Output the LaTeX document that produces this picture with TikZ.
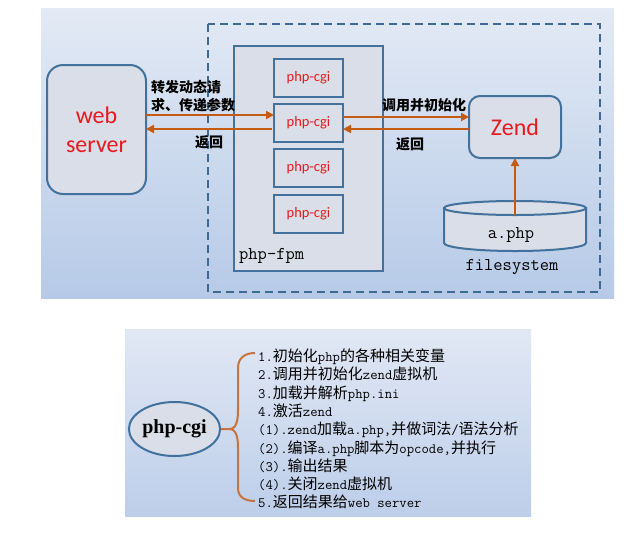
\documentclass[tikz,border=0pt]{standalone}
\usepackage{fontspec}
\newfontfamily\fZh{Noto Sans CJK SC}
\newfontfamily\fCal{Carlito}
\newfontfamily\fSerif{Liberation Serif}
\usetikzlibrary{arrows.meta,shapes.geometric,calc}
\definecolor{bord}{HTML}{41719C}
\definecolor{dashc}{HTML}{3D6A94}
\definecolor{boxfill}{HTML}{DADEE8}
\definecolor{redc}{HTML}{E8191E}
\definecolor{arrc}{HTML}{C55A11}
\definecolor{bracec}{HTML}{C8743A}
\definecolor{ptop}{HTML}{E3EAF5}
\definecolor{pbot}{HTML}{B6CAE7}
\definecolor{qtop}{HTML}{E1E8F4}
\definecolor{qbot}{HTML}{BDCEEA}
\newcommand\Z[1]{{\fZh\fontsize{15}{18}\selectfont #1}}
\tikzset{
  box/.style={draw=bord, line width=2pt, fill=boxfill, inner sep=0pt, outer sep=0pt},
  cgibox/.style={box, minimum width=69pt, minimum height=38pt, text=redc, font=\fCal\fontsize{14.5}{15}\selectfont},
  arr/.style={draw=arrc, line width=2pt, -{Triangle[length=8pt,width=8pt]}},
  lbl/.style={font=\fZh\bfseries\fontsize{14}{18}\selectfont, inner sep=0pt},
  monotxt/.style={font=\ttfamily\fontsize{18}{20}\selectfont, inner sep=0pt},
  li/.style={anchor=base west, inner sep=0pt, font=\ttfamily\fontsize{14.3}{15}\selectfont},
}
\begin{document}
\begin{tikzpicture}[x=1pt,y=-1pt]
\useasboundingbox (0,0) rectangle (642,539);
\fill[white] (0,0) rectangle (642,539);
% top panel
\shade[top color=ptop, bottom color=pbot] (41,8) rectangle (614,298);
\draw[dashc, line width=2pt, dash pattern=on 8pt off 5pt] (208,24) rectangle (600,292);
% php-fpm
\node[box, minimum width=149pt, minimum height=225pt] (fpm) at (308.5,158.5) {};
\node[monotxt, anchor=west] (fpml) at (239,256) {php-fpm};
\node[cgibox] (c1) at (308.5,77.5) {php-cgi};
\node[cgibox] (c2) at (308.5,122.5) {php-cgi};
\node[cgibox] (c3) at (308.5,168) {php-cgi};
\node[cgibox] (c4) at (308.5,213.5) {php-cgi};
% web server
\node[box, rounded corners=16pt, minimum width=99pt, minimum height=129pt, text=redc, align=center, font=\fCal\fontsize{24}{29}\selectfont] (ws) at (96.5,129.5) {web\\server};
% zend
\node[box, rounded corners=11pt, minimum width=92pt, minimum height=62pt, text=redc, font=\fCal\fontsize{24}{29}\selectfont] (zend) at (515,127) {Zend};
% filesystem cylinder
\filldraw[draw=bord, line width=2pt, fill=boxfill] (444,208) -- (444,243) arc[start angle=180, end angle=360, x radius=71pt, y radius=8pt] -- (586,208) -- cycle;
\filldraw[draw=bord, line width=2pt, fill=boxfill] (515,208) ellipse[x radius=71pt, y radius=7pt];
\coordinate (fstop) at (515,215);
\node[monotxt] (aphp) at (511,235) {a.php};
\node[monotxt] (fsl) at (512,267) {filesystem};
% arrows left
\coordinate (lf) at ([yshift=7.5pt]c2.west);
\coordinate (lr) at ([yshift=-6.5pt]c2.west);
\draw[arr] (ws.east |- lf) -- (lf);
\draw[arr] ([xshift=-2pt]lr) -- (ws.east |- lr);
\node[lbl, anchor=west, align=left] (lfl) at (151,96) {转发动态请\\求、传递参数};
\node[lbl] (lrl) at (209,142) {返回};
% arrows right
\coordinate (rf) at ([yshift=5.5pt]c2.east);
\coordinate (rr) at ([yshift=-6.5pt]c2.east);
\draw[arr] (rf) -- (rf -| zend.west);
\draw[arr] (rr -| zend.west) -- (rr);
\node[lbl] (rfl) at (424,105) {调用并初始化};
\node[lbl] (rrl) at (410,144) {返回};
\draw[arr] (fstop) -- (zend.south);
% bottom panel
\shade[top color=qtop, bottom color=qbot] (125,329) rectangle (531,516);
\node[ellipse, draw=bord, line width=2pt, fill=boxfill, minimum width=85pt, minimum height=54pt, inner sep=0pt, font=\fSerif\bfseries\fontsize{20}{22}\selectfont] (pc) at (174.5,429) {php-cgi};
\coordinate (tip) at (229,429);
\coordinate (b1) at (255,353);
\coordinate (b2) at (255,501);
\draw[bracec, line width=2pt] (pc.east) -- (tip)
  .. controls (236,429) and (238,422) .. (238,410) -- (238,368)
  .. controls (238,357) and (246,353) .. (b1);
\draw[bracec, line width=2pt] (tip)
  .. controls (236,429) and (238,436) .. (238,448) -- (238,488)
  .. controls (238,498) and (246,501) .. (b2);
\node[li] (l1) at (258,361.5) {1.\Z{初始化}php\Z{的各种相关变量}};
\node[li] (l2) at (258,379.8) {2.\Z{调用并初始化}zend\Z{虚拟机}};
\node[li] (l3) at (258,398.1) {3.\Z{加载并解析}php.ini};
\node[li] (l4) at (258,416.4) {4.\Z{激活}zend};
\node[li] (l5) at (258,434.7) {(1).zend\Z{加载}a.php,\Z{并做词法}/\Z{语法分析}};
\node[li] (l6) at (258,453.0) {(2).\Z{编译}a.php\Z{脚本为}opcode,\Z{并执行}};
\node[li] (l7) at (258,471.3) {(3).\Z{输出结果}};
\node[li] (l8) at (258,489.6) {(4).\Z{关闭}zend\Z{虚拟机}};
\node[li] (l9) at (258,507.9) {5.\Z{返回结果给}web server};
\end{tikzpicture}
\end{document}
